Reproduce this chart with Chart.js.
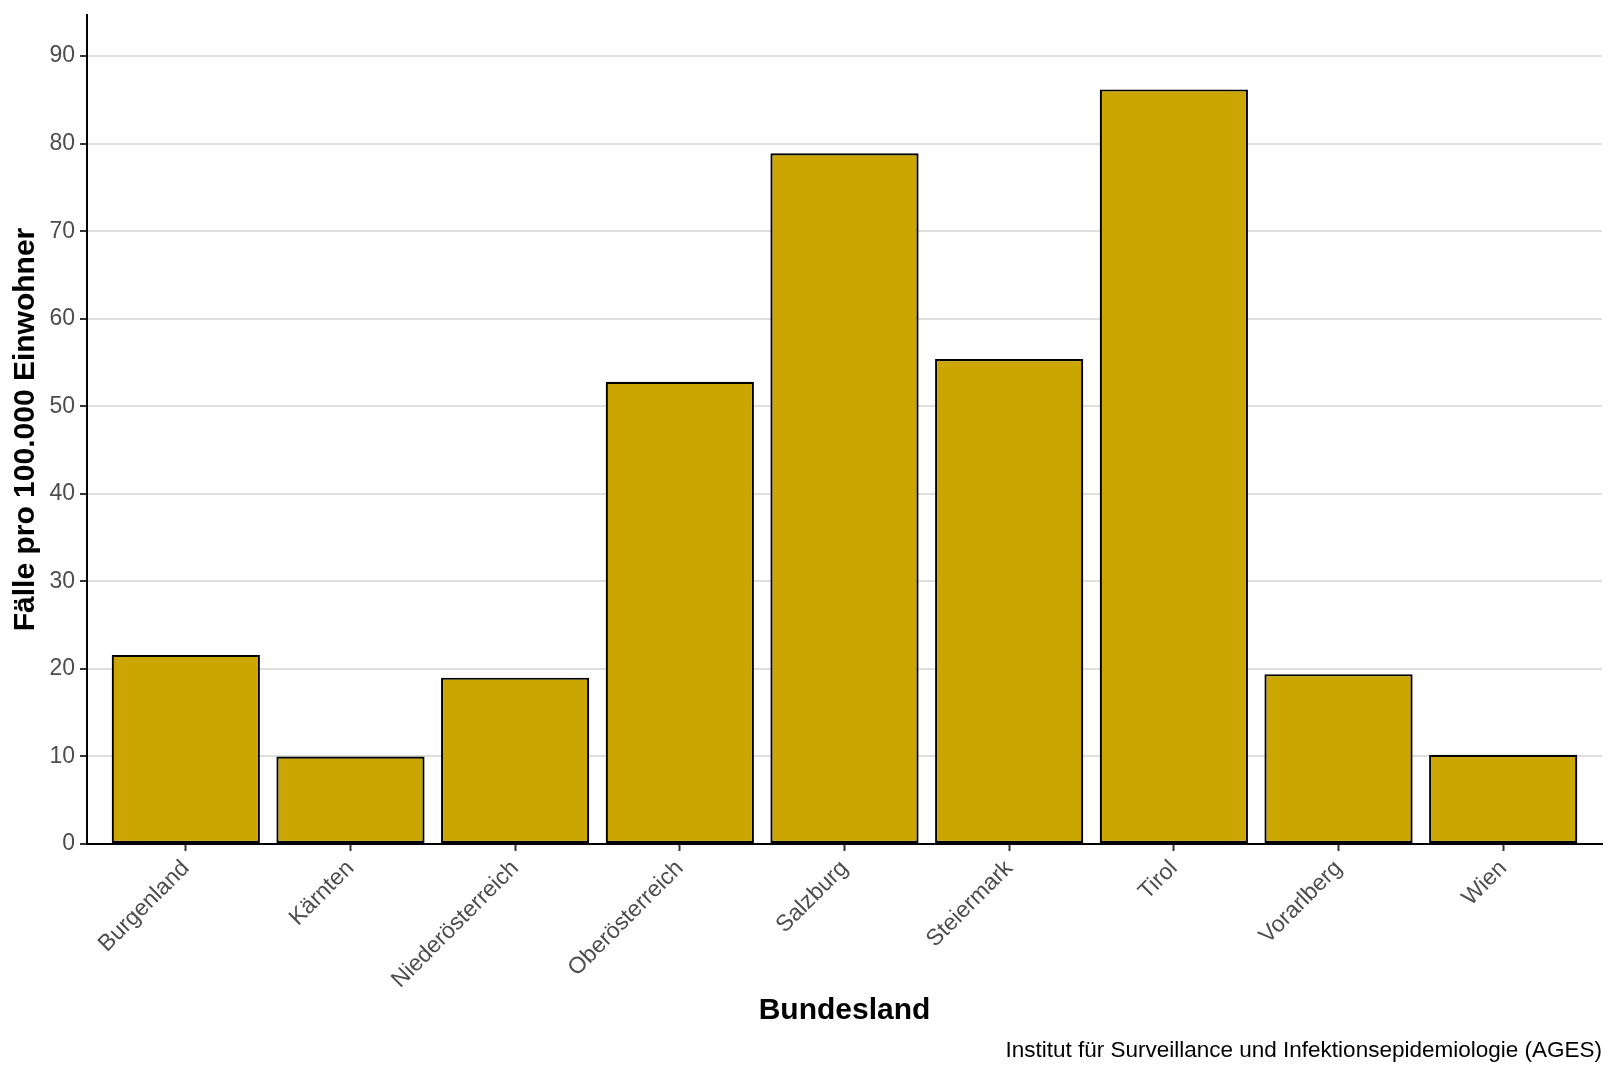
<!DOCTYPE html>
<html>
<head>
<meta charset="utf-8">
<title>Fälle pro 100.000 Einwohner nach Bundesland</title>
<script src="https://cdn.jsdelivr.net/npm/chart.js@4"></script>
<style>
  body { margin: 0; background: #fff; }
  canvas { display: block; }
</style>
</head>
<body>
<canvas id="chart" width="1616" height="1077"></canvas>
<script>
// Daten
const bundeslaender = ['Burgenland', 'Kärnten', 'Niederösterreich', 'Oberösterreich', 'Salzburg',
  'Steiermark', 'Tirol', 'Vorarlberg', 'Wien'];
const faelle = [21.6, 10.0, 19.0, 52.8, 78.9, 55.4, 86.2, 19.4, 10.2];
const yTicks = [0, 10, 20, 30, 40, 50, 60, 70, 80, 90];

const fontFamily = "'Liberation Sans', Arial, sans-serif";

document.addEventListener('DOMContentLoaded', () => {
  const ctx = document.getElementById('chart').getContext('2d');

  const points = faelle.map((v, i) => ({ x: i, y: v }));

  new Chart(ctx, {
    type: 'bar',
    data: {
      datasets: [{
        label: 'Fälle pro 100.000 Einwohner',
        data: points,
        backgroundColor: '#CBA500',
        borderColor: '#000000',
        borderWidth: 2.2,
        borderSkipped: false,
        barPercentage: 0.9,
        categoryPercentage: 1.0
      }]
    },
    options: {
      responsive: false,
      animation: false,
      layout: { padding: { top: 15, right: 14, left: 0, bottom: 0 } },
      plugins: {
        legend: { display: false },
        tooltip: { enabled: false },
        subtitle: {
          display: true,
          position: 'bottom',
          align: 'end',
          text: 'Institut für Surveillance und Infektionsepidemiologie (AGES)',
          color: '#000000',
          font: { family: fontFamily, size: 22.5 },
          padding: { top: 0, bottom: 13 }
        }
      },
      scales: {
        x: {
          type: 'linear',
          min: -0.6,
          max: bundeslaender.length - 0.4,
          offset: false,
          border: { display: true, color: '#000000', width: 2 },
          grid: { offset: false, drawOnChartArea: false, drawTicks: true, tickColor: '#333333', tickLength: 7, tickWidth: 2 },
          ticks: {
            stepSize: 1,
            includeBounds: false,
            autoSkip: false,
            maxRotation: 45,
            minRotation: 45,
            padding: 4,
            color: '#4d4d4d',
            font: { family: fontFamily, size: 23 },
            callback: (value) => Number.isInteger(value) ? bundeslaender[value] : ''
          },
          title: {
            display: true,
            text: 'Bundesland',
            color: '#000000',
            font: { family: fontFamily, size: 30, weight: 'bold' },
            padding: { top: 0, bottom: 8 }
          },
          afterFit: (scale) => {
            scale.height = 193;
            scale.paddingLeft = 0;
            scale.paddingRight = 0;
          }
        },
        y: {
          min: 0,
          max: 94.7,
          border: { display: true, color: '#000000', width: 2 },
          grid: { color: '#dedede', lineWidth: 2, tickColor: '#333333', tickLength: 7, tickWidth: 2 },
          afterBuildTicks: (scale) => { scale.ticks = yTicks.map(v => ({ value: v })); },
          ticks: {
            padding: 5,
            color: '#4d4d4d',
            font: { family: fontFamily, size: 23 }
          },
          title: {
            display: true,
            text: 'Fälle pro 100.000 Einwohner',
            color: '#000000',
            font: { family: fontFamily, size: 30, weight: 'bold' },
            padding: { top: 8, bottom: 0 }
          },
          afterFit: (scale) => {
            scale.width = 87;
            scale.paddingTop = 0;
            scale.paddingBottom = 0;
          }
        }
      }
    }
  });
});
</script>
</body>
</html>
